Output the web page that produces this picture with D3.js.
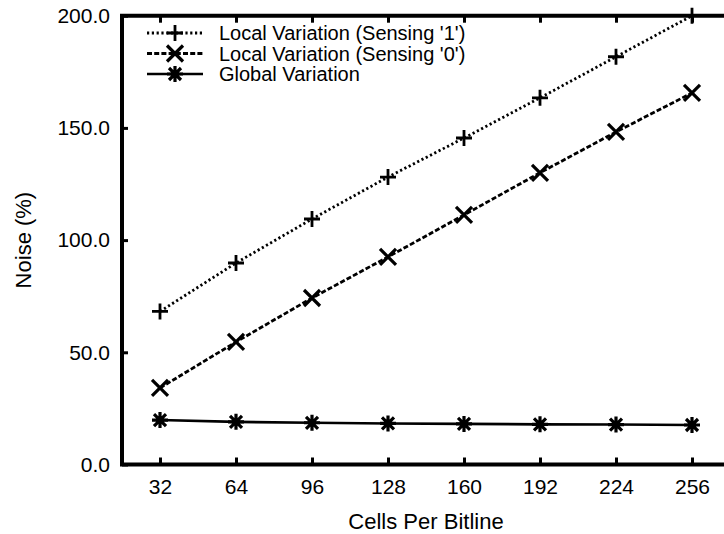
<!DOCTYPE html>
<html><head><meta charset="utf-8">
<script src="https://cdn.jsdelivr.net/npm/d3@7"></script>
<style>body{margin:0;background:#fff}svg{display:block}text{font-family:"Liberation Sans",Arial,Helvetica,sans-serif;fill:#000}</style>
</head><body><svg id="c" width="724" height="534"></svg>
<script>
const cells = [32, 64, 96, 128, 160, 192, 224, 256];
const sensing1 = [68.2, 89.8, 109.4, 128.1, 145.5, 163.4, 181.7, 200.0];
const sensing0 = [34.1, 54.6, 74.2, 92.5, 111.2, 130.0, 148.2, 165.6];
const globalVar = [19.8, 19.0, 18.6, 18.3, 18.1, 17.9, 17.8, 17.6];
const yTicks = [0, 50, 100, 150, 200];
const seriesNames = ["Local Variation (Sensing '1')", "Local Variation (Sensing '0')", "Global Variation"];

const svg = d3.select("#c");
const x = d3.scaleLinear().domain([16, 272]).range([122, 730]);
const y = d3.scaleLinear().domain([0, 200]).range([464.5, 15.7]);

const g = svg.append("g");
g.append("g").attr("transform", `translate(0,${y(0)})`)
  .call(d3.axisBottom(x).tickValues(cells).tickSize(-7).tickPadding(15).tickFormat(d3.format("d")))
  .call(a => { a.select(".domain").remove(); a.selectAll("line").attr("stroke-width", 3); a.selectAll("text").style("font-size", "21px"); });
g.append("g").attr("transform", `translate(0,${y(200)})`)
  .call(d3.axisTop(x).tickValues(cells).tickSize(-7).tickFormat(""))
  .call(a => { a.select(".domain").remove(); a.selectAll("line").attr("stroke-width", 3); });
g.append("g").attr("transform", `translate(${x(16)},0)`)
  .call(d3.axisLeft(y).tickValues(yTicks).tickSize(-6).tickPadding(12).tickFormat(d3.format(".1f")))
  .call(a => { a.select(".domain").remove(); a.selectAll("line").attr("stroke-width", 3); a.selectAll("text").style("font-size", "21px"); });

svg.append("path")
  .attr("d", `M${x(272)},${y(200)}H${x(16)}V${y(0)}H${x(272)}`)
  .attr("fill", "none").attr("stroke", "#000").attr("stroke-width", 4);

svg.append("text").attr("x", (x(16) + x(272)) / 2).attr("y", 529).attr("text-anchor", "middle").style("font-size", "22px").text("Cells Per Bitline");
svg.append("text").attr("transform", `translate(31,${(y(0) + y(200)) / 2}) rotate(-90)`).attr("text-anchor", "middle").style("font-size", "22px").text("Noise (%)");

const styles = [
  { dash: "2.2,2.6", w: 2.8, marker: "plus" },
  { dash: "5,2.2", w: 2.8, marker: "cross" },
  { dash: null, w: 2.6, marker: "star" }
];
function marker(sel, type) {
  sel.each(function () {
    const m = d3.select(this);
    const s = 8;
    let d;
    if (type === "plus") d = `M${-s},0H${s}M0,${-s}V${s}`;
    else if (type === "cross") d = `M${-s},${-s}L${s},${s}M${-s},${s}L${s},${-s}`;
    else d = `M${-s},0H${s}M0,${-s}V${s}M${-s*0.75},${-s*0.75}L${s*0.75},${s*0.75}M${-s*0.75},${s*0.75}L${s*0.75},${-s*0.75}`;
    m.append("path").attr("d", d).attr("stroke", "#000").attr("stroke-width", type === "plus" ? 2.8 : 3.2).attr("fill", "none");
  });
}
const data = [sensing1, sensing0, globalVar];
const line = d3.line().x((d, i) => x(cells[i])).y(d => y(d));
data.forEach((vals, k) => {
  const st = styles[k];
  svg.append("path").datum(vals).attr("d", line).attr("fill", "none").attr("stroke", "#000")
    .attr("stroke-width", st.w).attr("stroke-dasharray", st.dash);
  svg.append("g").selectAll("g").data(vals).join("g")
    .attr("transform", (d, i) => `translate(${x(cells[i])},${y(d)})`).call(marker, st.marker);
});

const lg = svg.append("g");
seriesNames.forEach((name, k) => {
  const st = styles[k];
  const yy = 33 + k * 20.5;
  lg.append("path").attr("d", `M147,${yy}H203`).attr("stroke", "#000").attr("stroke-width", st.w).attr("stroke-dasharray", st.dash);
  lg.append("g").attr("transform", `translate(175,${yy})`).call(marker, st.marker);
  lg.append("text").attr("x", 219).attr("y", yy).attr("dy", "0.36em").style("font-size", "20px").text(name);
});
</script></body></html>
